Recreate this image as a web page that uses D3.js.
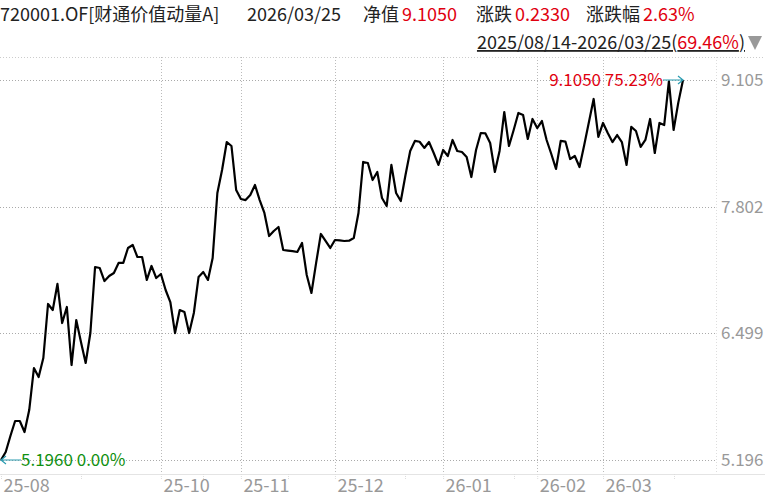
<!DOCTYPE html>
<html>
<head>
<meta charset="utf-8">
<script src="https://cdn.jsdelivr.net/npm/d3@7"></script>
<style>
  body { margin: 0; background: #fff; }
  svg { font-family: "Noto Sans CJK SC", "Noto Sans", sans-serif; }
</style>
</head>
<body>
<div id="chart"></div>
<script>
// net asset value per trading day, 2025/08/14 .. 2026/03/25
var navValues = [
  5.196, 5.278, 5.443, 5.597, 5.597, 5.484, 5.710, 6.142, 6.050, 6.245,
  6.801, 6.739, 7.007, 6.605, 6.770, 6.173, 6.636, 6.410, 6.194, 6.502,
  7.181, 7.171, 7.037, 7.089, 7.120, 7.223, 7.223, 7.377, 7.408, 7.284,
  7.284, 7.048, 7.192, 7.068, 7.109, 6.945, 6.821, 6.502, 6.739, 6.718,
  6.502, 6.708, 7.078, 7.130, 7.048, 7.274, 7.943, 8.179, 8.467, 8.426,
  7.973, 7.881, 7.870, 7.922, 8.025, 7.870, 7.737, 7.500, 7.552, 7.593,
  7.356, 7.350, 7.345, 7.336, 7.428, 7.099, 6.914, 7.223, 7.521, 7.449,
  7.377, 7.459, 7.455, 7.449, 7.452, 7.480, 7.737, 8.262, 8.251, 8.076,
  8.159, 7.891, 7.809, 8.231, 7.943, 7.860, 8.128, 8.375, 8.478, 8.470,
  8.406, 8.467, 8.354, 8.231, 8.385, 8.323, 8.488, 8.375, 8.364, 8.313,
  8.107, 8.385, 8.560, 8.555, 8.457, 8.159, 8.375, 8.776, 8.426, 8.591,
  8.766, 8.745, 8.498, 8.704, 8.611, 8.683, 8.488, 8.344, 8.190, 8.478,
  8.472, 8.292, 8.323, 8.210, 8.436, 8.673, 8.910, 8.519, 8.663, 8.560,
  8.467, 8.539, 8.467, 8.231, 8.622, 8.580, 8.416, 8.488, 8.704, 8.354,
  8.663, 8.642, 9.092, 8.591, 8.872, 9.105
];

// month axis: index of first trading day of each labelled month
var monthIdx = [0, 34, 51, 71, 94, 114, 128];
var monthLabels = ["25-08", "25-10", "25-11", "25-12", "26-01", "26-02", "26-03"];
var minorIdx = [17, 43, 61, 86, 109, 143];

var yTicks = [5.196, 6.499, 7.802, 9.105];

var fundName = "720001.OF[财通价值动量A]";
var lastDate = "2026/03/25";
var rangeText = "2025/08/14-2026/03/25";
var rangePct = "69.46%";

var W = 765, H = 500;
var plotRight = 716, axisY = 474;

var svg = d3.select("#chart")
  .append("svg")
    .attr("width", W)
    .attr("height", H);

var x = d3.scaleLinear()
  .domain([0, navValues.length - 1])
  .range([1, 683]);

var y = d3.scaleLinear()
  .domain([yTicks[0], yTicks[yTicks.length - 1]])
  .range([460, 80]);

// --- header ---
var last = navValues[navValues.length - 1],
    prev = navValues[navValues.length - 2],
    first = navValues[0];
var chg = last - prev;

var head = svg.append("g").attr("font-size", 18);
var headParts = [
  {t: fundName, x: 0, c: "#222"},
  {t: lastDate, x: 247, c: "#222"},
  {t: "净值", x: 363, c: "#222"},
  {t: last.toFixed(4), x: 402, c: "#e0000f"},
  {t: "涨跌", x: 476, c: "#222"},
  {t: chg.toFixed(4), x: 515, c: "#e0000f"},
  {t: "涨跌幅", x: 586, c: "#222"},
  {t: (chg / prev * 100).toFixed(2) + "%", x: 643, c: "#e0000f"}
];
head.selectAll("text")
  .data(headParts)
  .enter()
  .append("text")
    .attr("x", d => d.x)
    .attr("y", 21)
    .attr("fill", d => d.c)
    .text(d => d.t);

var rng = svg.append("text")
  .attr("x", 745)
  .attr("y", 49)
  .attr("text-anchor", "end")
  .attr("font-size", 18)
  .attr("fill", "#222")
  .attr("text-decoration", "underline");
rng.append("tspan").text(rangeText + "(");
rng.append("tspan").attr("fill", "#e0000f").text(rangePct);
rng.append("tspan").text(")");

svg.append("path")
  .attr("d", "M748,36 L762,36 L755,50 Z")
  .attr("fill", "#999");

// --- frame / grid ---
svg.append("line")
  .attr("x1", 0).attr("x2", W)
  .attr("y1", 57.5).attr("y2", 57.5)
  .attr("stroke", "#ccc")
  .attr("stroke-dasharray", "1,2");

svg.append("g")
  .selectAll("line")
  .data(monthIdx.slice(1))
  .enter()
  .append("line")
    .attr("x1", d => Math.round(x(d)) + 0.5)
    .attr("x2", d => Math.round(x(d)) + 0.5)
    .attr("y1", 57)
    .attr("y2", axisY)
    .attr("stroke", "#bbb")
    .attr("stroke-dasharray", "1,2");

svg.append("line")
  .attr("x1", plotRight + 0.5).attr("x2", plotRight + 0.5)
  .attr("y1", 57).attr("y2", axisY)
  .attr("stroke", "#ddd")
  .attr("stroke-dasharray", "1,2");

svg.append("g")
  .selectAll("line")
  .data(yTicks)
  .enter()
  .append("line")
    .attr("x1", 0)
    .attr("x2", plotRight)
    .attr("y1", d => Math.round(y(d)) + 0.5)
    .attr("y2", d => Math.round(y(d)) + 0.5)
    .attr("stroke", "#aaa")
    .attr("stroke-dasharray", "1,2");

// y axis on the right
var yAxis = svg.append("g")
  .attr("transform", "translate(" + plotRight + ",0)")
  .call(d3.axisRight(y).tickValues(yTicks).tickFormat(d3.format(".3f")).tickSize(0).tickPadding(5));
yAxis.select(".domain").remove();
yAxis.selectAll("text")
  .attr("font-family", "Noto Sans CJK SC")
  .attr("font-size", 17)
  .attr("fill", "#999");

// x axis
svg.append("line")
  .attr("x1", 0).attr("x2", W)
  .attr("y1", axisY + 0.5).attr("y2", axisY + 0.5)
  .attr("stroke", "#e4e4e4");

var xAxis = svg.append("g")
  .attr("transform", "translate(0," + axisY + ")")
  .call(d3.axisBottom(x)
    .tickValues(monthIdx)
    .tickFormat((d, i) => monthLabels[i])
    .tickSize(6)
    .tickPadding(2));
xAxis.select(".domain").remove();
xAxis.selectAll(".tick line").attr("stroke", "#ddd").attr("stroke-dasharray", "1,1");
xAxis.selectAll("text")
  .attr("text-anchor", "start")
  .attr("dx", 2)
  .attr("y", 5)
  .attr("font-family", "Noto Sans CJK SC")
  .attr("font-size", 18)
  .attr("fill", "#999");

svg.append("g")
  .selectAll("line")
  .data(minorIdx)
  .enter()
  .append("line")
    .attr("x1", d => Math.round(x(d)) + 0.5)
    .attr("x2", d => Math.round(x(d)) + 0.5)
    .attr("y1", axisY)
    .attr("y2", axisY + 6)
    .attr("stroke", "#ddd")
    .attr("stroke-dasharray", "1,1");

// --- nav line ---
var line = d3.line()
  .x((d, i) => x(i))
  .y(d => y(d));

svg.append("path")
  .datum(navValues)
  .attr("fill", "none")
  .attr("stroke", "#000")
  .attr("stroke-width", 2.2)
  .attr("stroke-linejoin", "round")
  .attr("d", line);

// --- start / end markers ---
var arrowColor = "#2a9bb0";
var xs = x(0), ys = y(first);
svg.append("path")
  .attr("d", "M" + (xs + 20) + "," + ys + " L" + xs + "," + ys +
             " M" + (xs + 5) + "," + (ys - 4) + " L" + xs + "," + ys + " L" + (xs + 5) + "," + (ys + 4))
  .attr("fill", "none")
  .attr("stroke", arrowColor)
  .attr("stroke-width", 1.2);
svg.append("text")
  .attr("x", xs + 20)
  .attr("y", ys + 6)
  .attr("font-size", 17)
  .attr("fill", "#109010")
  .text(first.toFixed(4) + " " + "0.00%");

var xe = x(navValues.length - 1), ye = y(last);
svg.append("path")
  .attr("d", "M" + (xe - 20) + "," + ye + " L" + xe + "," + ye +
             " M" + (xe - 5) + "," + (ye - 4) + " L" + xe + "," + ye + " L" + (xe - 5) + "," + (ye + 4))
  .attr("fill", "none")
  .attr("stroke", arrowColor)
  .attr("stroke-width", 1.2);
svg.append("text")
  .attr("x", xe - 20)
  .attr("y", ye + 6)
  .attr("text-anchor", "end")
  .attr("font-size", 17)
  .attr("fill", "#e0000f")
  .text(last.toFixed(4) + " " + ((last / first - 1) * 100).toFixed(2) + "%");
</script>
</body>
</html>
